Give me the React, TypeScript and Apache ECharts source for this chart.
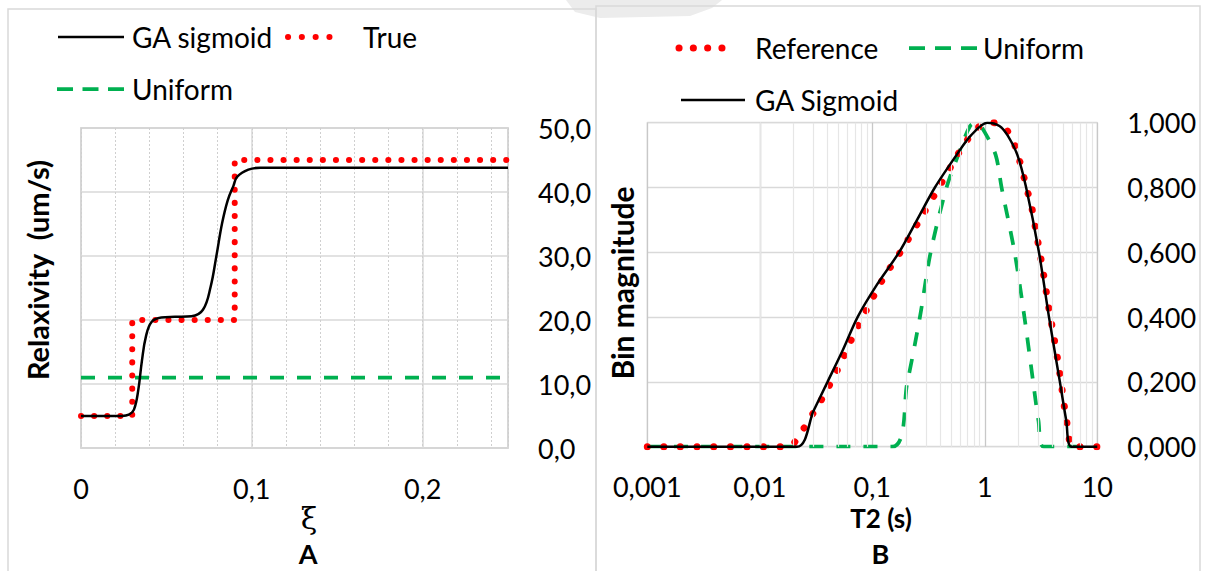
import React, { useEffect, useRef } from 'react';
import * as echarts from 'echarts';

// ---------- Panel A data (xi vs relaxivity, um/s) ----------
const A_SIGMOID_XI = [0, 0.024, 0.028, 0.031, 0.0335, 0.0357, 0.038, 0.0413, 0.047, 0.055, 0.0647, 0.0714, 0.0759, 0.0792, 0.0826, 0.0859, 0.0893, 0.0915, 0.098, 0.105, 0.12, 0.25];
const A_SIGMOID_R = [5, 5, 5.2, 6.0, 9.0, 13.7, 17.4, 19.7, 20.4, 20.5, 20.6, 21.6, 25.2, 29.9, 35.1, 38.7, 41.0, 42.4, 43.5, 43.8, 43.8, 43.8];
const A_TRUE_XI = [0, 0.03, 0.03, 0.09, 0.09, 0.25];
const A_TRUE_R = [5, 5, 20, 20, 45, 45];
const A_UNIFORM_XI = [0, 0.25];
const A_UNIFORM_R = [11, 11];

// ---------- Panel B data (T2 vs normalised bin magnitude) ----------
const B_REF_T2 = [0.001, 0.01, 0.018, 0.02, 0.025, 0.03, 0.036, 0.049, 0.066, 0.09, 0.124, 0.181, 0.26, 0.367, 0.525, 0.63, 0.77, 0.95, 1.12, 1.36, 1.73, 1.95, 2.16, 2.34, 2.58, 2.92, 3.29, 3.66, 4.12, 4.61, 5.05, 5.33, 5.6, 5.9, 10];
const B_REF_V = [0, 0, 0, 0.01, 0.06, 0.105, 0.15, 0.237, 0.334, 0.426, 0.517, 0.605, 0.696, 0.784, 0.878, 0.924, 0.966, 0.995, 1.0, 0.997, 0.955, 0.904, 0.852, 0.8, 0.748, 0.645, 0.543, 0.44, 0.338, 0.234, 0.133, 0.081, 0.03, 0, 0];
const B_UNIFORM_T2 = [0.001, 0.15, 0.205, 0.265, 0.33, 0.457, 0.58, 0.74, 0.85, 1.0, 1.25, 1.41, 1.84, 2.25, 2.69, 3.0, 3.34, 10];
const B_UNIFORM_V = [0, 0, 0.2, 0.4, 0.6, 0.8, 0.9, 0.99, 1.0, 0.97, 0.9, 0.8, 0.6, 0.4, 0.2, 0.08, 0, 0];
const B_SIGMOID_T2 = [0.001, 0.0214, 0.03, 0.04, 0.055, 0.074, 0.11, 0.173, 0.25, 0.36, 0.56, 0.75, 1.05, 1.35, 1.6, 1.95, 2.33, 3.03, 3.72, 4.65, 5.3, 5.88, 10];
const B_SIGMOID_V = [0, 0, 0.11, 0.2, 0.3, 0.4, 0.5, 0.6, 0.7, 0.8, 0.9, 0.96, 1.0, 0.99, 0.96, 0.9, 0.8, 0.6, 0.4, 0.2, 0.08, 0, 0];

const B_DECADES = [0.001, 0.01, 0.1, 1];

const zip = (xs: number[], ys: number[]) => xs.map((x, i) => [x, ys[i]]);

const FONT = 'Lato';
const GRID_C = '#d9d9d9';

export default function App() {
  const ref = useRef<HTMLDivElement>(null);
  useEffect(() => {
    const chart = echarts.init(ref.current!, undefined, { renderer: 'svg' });

    const minorLines: any[] = [];
    B_DECADES.forEach((d) => {
      for (let k = 2; k <= 9; k++) minorLines.push({ xAxis: +(d * k).toPrecision(4) });
    });

    const txt = (text: string, x: number, y: number, size: number, bold = false, extra: any = {}) => ({
      type: 'text',
      x,
      y,
      ...extra,
      style: {
        text,
        fontSize: size,
        lineHeight: size,
        fontFamily: FONT,
        fontWeight: bold ? 'bold' : 'normal',
        fill: '#000',
        align: extra.align || 'left',
        verticalAlign: 'middle',
      },
    });
    const seg = (x1: number, x2: number, y: number, stroke: string, lineWidth: number, lineDash?: number[]) => ({
      type: 'line',
      shape: { x1, y1: y, x2, y2: y },
      style: { stroke, lineWidth, lineDash, lineCap: lineDash && lineDash[0] < 1 ? 'round' : 'butt' },
    });

    const option: any = {
      animation: false,
      backgroundColor: '#fff',
      grid: [
        { left: 81, top: 128, width: 427, height: 320, show: true, borderColor: '#bfbfbf', borderWidth: 1.5, backgroundColor: 'transparent' },
        { left: 647.3, top: 122.7, width: 450, height: 324, show: true, borderColor: GRID_C, borderWidth: 1.2, backgroundColor: 'transparent' },
      ],
      xAxis: [
        {
          type: 'value', gridIndex: 0, min: 0, max: 0.25, interval: 0.1,
          axisLine: { show: false }, axisTick: { show: false },
          axisLabel: {
            margin: 27, fontSize: 27, lineHeight: 26, fontFamily: FONT, color: '#000', showMaxLabel: false,
            formatter: (v: number) => (Math.abs(v - 0.25) < 1e-9 ? '' : String(+v.toFixed(2)).replace('.', ',')),
          },
          splitLine: { show: true, lineStyle: { color: GRID_C, width: 1.5 } },
        },
        {
          type: 'value', gridIndex: 0, min: 0, max: 0.25, interval: 0.02,
          axisLine: { show: false }, axisTick: { show: false }, axisLabel: { show: false },
          splitLine: { show: true, lineStyle: { color: '#cfcfcf', width: 1, type: [2, 2] } },
        },
        {
          type: 'log', logBase: 10, gridIndex: 1, min: 0.001, max: 10,
          axisLine: { show: false }, axisTick: { show: false },
          axisLabel: {
            margin: 27, fontSize: 27, lineHeight: 26, fontFamily: FONT, color: '#000',
            formatter: (v: number) => String(Number(v.toPrecision(6))).replace('.', ','),
          },
          splitLine: { show: true, lineStyle: { color: '#c8c8c8', width: 1.3 } },
        },
      ],
      yAxis: [
        {
          type: 'value', gridIndex: 0, position: 'right', min: 0, max: 50, interval: 10,
          axisLine: { show: false }, axisTick: { show: false },
          axisLabel: { margin: 30, fontSize: 27, fontFamily: FONT, color: '#000', formatter: (v: number) => v.toFixed(1).replace('.', ',') },
          splitLine: { show: true, lineStyle: { color: GRID_C, width: 1.5 } },
        },
        {
          type: 'value', gridIndex: 1, position: 'right', min: 0, max: 1, interval: 0.2,
          axisLine: { show: false }, axisTick: { show: false },
          axisLabel: { margin: 30, fontSize: 27, fontFamily: FONT, color: '#000', formatter: (v: number) => v.toFixed(3).replace('.', ',') },
          splitLine: { show: true, lineStyle: { color: GRID_C, width: 1.3 } },
        },
      ],
      series: [
        // Panel A
        {
          name: 'Uniform', type: 'line', xAxisIndex: 0, yAxisIndex: 0, z: 3, showSymbol: false, silent: true,
          data: zip(A_UNIFORM_XI, A_UNIFORM_R),
          lineStyle: { color: '#00b050', width: 3.75, type: [14, 13] },
        },
        {
          name: 'True', type: 'line', xAxisIndex: 0, yAxisIndex: 0, z: 4, showSymbol: false, silent: true,
          data: zip(A_TRUE_XI, A_TRUE_R),
          lineStyle: { color: '#ff0000', width: 6, type: [0.1, 13], cap: 'round' },
        },
        {
          name: 'GA sigmoid', type: 'line', xAxisIndex: 0, yAxisIndex: 0, z: 5, showSymbol: false, silent: true,
          smooth: 0.4,
          data: zip(A_SIGMOID_XI, A_SIGMOID_R),
          lineStyle: { color: '#000', width: 2.5 },
        },
        // Panel B minor log grid lines
        {
          name: 'minorGrid', type: 'line', xAxisIndex: 2, yAxisIndex: 1, z: 1, showSymbol: false, silent: true,
          data: [[0.001, 0]], lineStyle: { width: 0 },
          markLine: {
            silent: true, symbol: 'none', label: { show: false },
            lineStyle: { color: '#e6e6e6', width: 1.2, type: 'solid' },
            data: minorLines,
          },
        },
        {
          name: 'Uniform B', type: 'line', xAxisIndex: 2, yAxisIndex: 1, z: 3, showSymbol: false, silent: true,
          smooth: 0.3,
          data: zip(B_UNIFORM_T2, B_UNIFORM_V),
          lineStyle: { color: '#00b050', width: 3.75, type: [14, 13] },
        },
        {
          name: 'Reference', type: 'line', xAxisIndex: 2, yAxisIndex: 1, z: 4, showSymbol: false, silent: true,
          smooth: 0.3,
          data: zip(B_REF_T2, B_REF_V),
          lineStyle: { color: '#ff0000', width: 7, type: [0.1, 16.5], cap: 'round' },
        },
        {
          name: 'GA Sigmoid', type: 'line', xAxisIndex: 2, yAxisIndex: 1, z: 5, showSymbol: false, silent: true,
          smooth: 0.3,
          data: zip(B_SIGMOID_T2, B_SIGMOID_V),
          lineStyle: { color: '#000', width: 2.5 },
        },
      ],
      graphic: {
        elements: [
          // scanned-page smudge at the top
          { type: 'polygon', shape: { points: [[566, 0], [722, 0], [712, 8], [690, 16], [600, 18], [575, 12]] }, style: { fill: '#ececec' }, z: -2 },
          // panel frames
          { type: 'rect', shape: { x: 8, y: 9, width: 588, height: 600 }, style: { fill: 'none', stroke: GRID_C, lineWidth: 1.5 }, z: -1 },
          { type: 'rect', shape: { x: 596, y: 6, width: 604, height: 600 }, style: { fill: 'none', stroke: GRID_C, lineWidth: 1.5 }, z: -1 },
          // Panel A legend
          seg(58, 124, 37, '#000', 2.5),
          txt('GA sigmoid', 132, 37, 28),
          seg(288, 343, 37, '#ff0000', 6, [0.1, 13.7]),
          txt('True', 363, 37, 28),
          seg(57, 124, 89, '#00b050', 3.75, [16, 9.5]),
          txt('Uniform', 132, 89, 28),
          // Panel B legend
          seg(679, 736, 48, '#ff0000', 7, [0.1, 14.2]),
          txt('Reference', 755, 48, 28),
          seg(909, 977, 48, '#00b050', 3.75, [16, 10]),
          txt('Uniform', 983, 48, 28),
          seg(681, 745, 100, '#000', 2.5),
          txt('GA Sigmoid', 755, 100, 28),
          // Axis titles
          txt('Relaxivity  (um/s)', 37, 270, 29, true, { rotation: Math.PI / 2, align: 'center' }),
          {
            type: 'text', x: 309, y: 518,
            style: { text: 'ξ', fontSize: 30, lineHeight: 30, fontFamily: 'DejaVu Serif', fill: '#000', align: 'center', verticalAlign: 'middle' },
          },
          txt('A', 308, 553, 27, true, { align: 'center' }),
          txt('Bin magnitude', 621.6, 283, 30, true, { rotation: Math.PI / 2, align: 'center' }),
          txt('T2 (s)', 881, 518, 26, true, { align: 'center' }),
          txt('B', 880.5, 553, 27, true, { align: 'center' }),
        ],
      },
    };
    chart.setOption(option);
    return () => chart.dispose();
  }, []);

  return <div ref={ref} style={{ position: 'absolute', left: 0, top: 0, width: 1208, height: 571, background: '#fff' }} />;
}
